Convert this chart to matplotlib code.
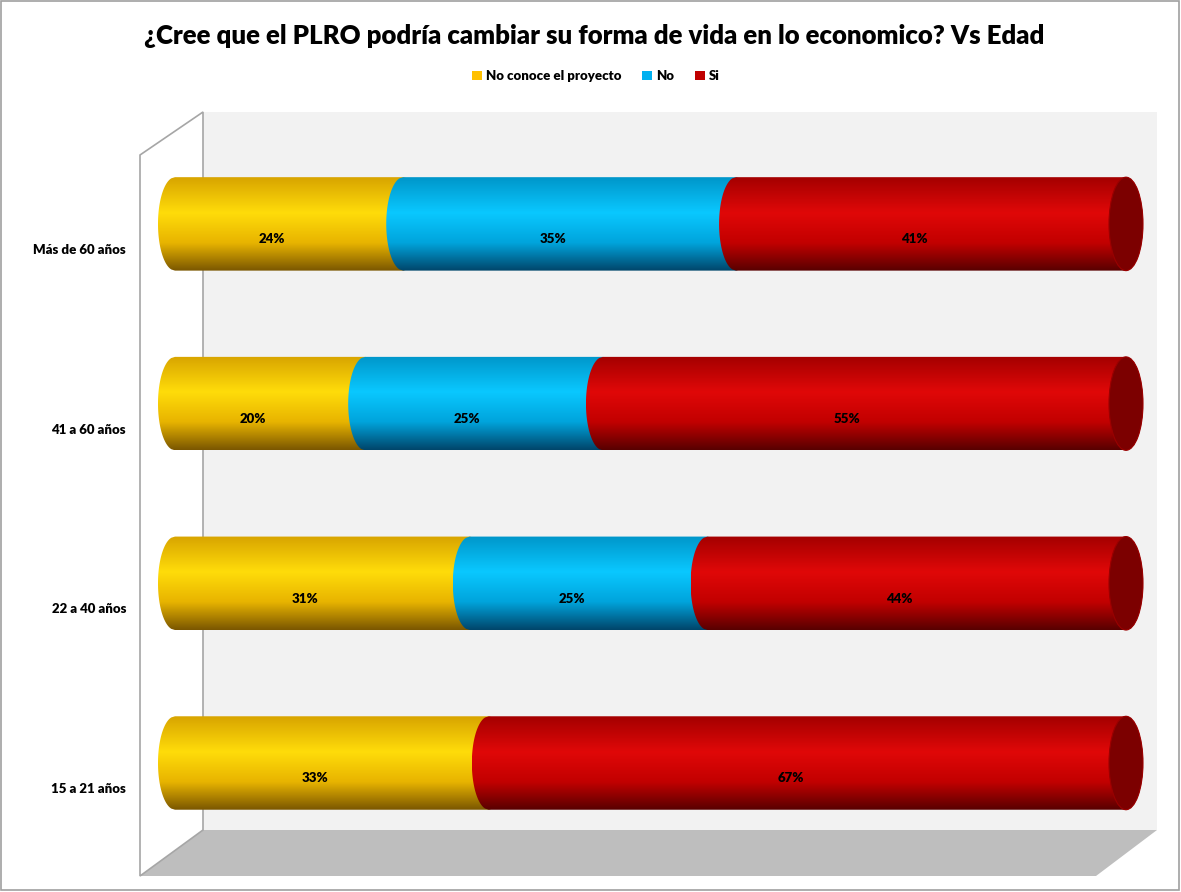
import matplotlib
matplotlib.use("Agg")
import matplotlib.pyplot as plt
import numpy as np
from matplotlib.colors import LinearSegmentedColormap
from matplotlib.patches import Polygon, Ellipse, Rectangle

categorias = ['15 a 21 años', '22 a 40 años', '41 a 60 años', 'Más de 60 años']
no_conoce = [33, 31, 20, 24]
no = [0, 25, 25, 35]
si = [67, 44, 55, 41]
series = ['No conoce el proyecto', 'No', 'Si']
titulo = '¿Cree que el PLRO podría cambiar su forma de vida en lo economico? Vs Edad'

# colores tipo cilindro: arriba, brillo, medio, abajo
degradados = {
    'No conoce el proyecto': ['#D8A400', '#FFDC0A', '#E8B400', '#7A5600'],
    'No': ['#0096CA', '#0AC8FF', '#00A4DC', '#00456A'],
    'Si': ['#A40000', '#E00808', '#C20000', '#580000'],
}
leyenda_col = {'No conoce el proyecto': '#FFC000', 'No': '#00B0F0', 'Si': '#C00000'}

plt.rcParams['font.family'] = ['Lato', 'DejaVu Sans']

W, H = 1181, 892
fig = plt.figure(figsize=(W / 100, H / 100), dpi=100)
fig.patch.set_facecolor('white')

# fondo 3D (paredes y piso) en pixeles de la figura
bg = fig.add_axes([0, 0, 1, 1])
bg.set_xlim(0, W)
bg.set_ylim(H, 0)
bg.axis('off')
bg.add_patch(Rectangle((203, 112), 954, 718, facecolor='#F2F2F2', edgecolor='none'))
bg.add_patch(Polygon([(203, 830), (1157, 830), (1096, 876), (140, 876)],
                     closed=True, facecolor='#BEBEBE', edgecolor='none'))
bg.add_patch(Polygon([(140, 155), (203, 112), (203, 830), (140, 876)],
                     closed=True, facecolor='white', edgecolor='#A6A6A6', lw=1.2))
bg.add_patch(Rectangle((1, 1), W - 3, H - 3, facecolor='none', edgecolor='#A0A0A0', lw=1.2))

# ejes de datos
px0, px100 = 175, 1126
ppu = px100 - px0
left_px, right_px = 140, 1160
top_px, bot_px = 112, 876
yc0, ystep = 763, 179.7
ax = fig.add_axes([left_px / W, 1 - bot_px / H, (right_px - left_px) / W, (bot_px - top_px) / H])
ax.set_xlim(-(px0 - left_px) / ppu, (right_px - px0) / ppu)
ax.set_ylim(-(bot_px - yc0) / ystep, 3 + (yc0 - 3 * ystep - top_px) / ystep)
ax.axis('off')
ax.patch.set_alpha(0)

alto = 0.52
rx = 17 / ppu
grad = np.linspace(0, 1, 256).reshape(-1, 1)

def cilindro(a, b, yc, nombre, z, ultimo):
    cols = degradados[nombre]
    cmap = LinearSegmentedColormap.from_list(nombre, list(zip([0, 0.38, 0.7, 1.0], cols)))
    ys = np.linspace(yc - alto / 2, yc + alto / 2, 80)
    e = rx * np.sqrt(np.clip(1 - ((ys - yc) / (alto / 2)) ** 2, 0, 1))
    pts = list(zip(a - e, ys)) + list(zip((b + e)[::-1], ys[::-1]))
    poly = Polygon(pts, closed=True, facecolor='none', edgecolor='none', zorder=z)
    ax.add_patch(poly)
    im = ax.imshow(grad, cmap=cmap, aspect='auto', origin='upper',
                   extent=(a - rx, b + rx, yc - alto / 2, yc + alto / 2),
                   zorder=z, interpolation='bilinear')
    im.set_clip_path(poly)
    if ultimo:
        ax.add_patch(Ellipse((b, yc), 2 * rx, alto, facecolor='#7C0000',
                             edgecolor='#9A0000', lw=0.8, zorder=z + 0.5))

datos = [no_conoce, no, si]
for i, cat in enumerate(categorias):
    acum = 0
    for j, nombre in enumerate(series):
        v = datos[j][i] / 100
        if v <= 0:
            continue
        a, b = acum, acum + v
        cilindro(a, b, i, nombre, 3 + j, j == len(series) - 1)
        ax.text((a + b) / 2 - rx, i - 0.085, f'{datos[j][i]}%', ha='center', va='center',
                fontsize=9.5, fontweight='heavy', color='black', zorder=10)
        acum = b
    ax.text(-(px0 - 126) / ppu, i - 0.145, cat, ha='right', va='center',
            fontsize=9.5, fontweight='heavy', color='black', clip_on=False)

fig.text(0.503, 1 - 36 / H, titulo, ha='center', va='center',
         fontsize=18.5, fontweight='heavy', color='black')

handles = [Rectangle((0, 0), 1, 1, facecolor=leyenda_col[s], edgecolor='none') for s in series]
fig.legend(handles, series, loc='center', bbox_to_anchor=(596 / W, 1 - 76 / H), ncol=3,
           frameon=False, prop={'size': 9.5, 'weight': 'heavy'},
           handlelength=0.75, handleheight=0.75, handletextpad=0.3, columnspacing=1.6)

fig.savefig('out.png', dpi=100)
